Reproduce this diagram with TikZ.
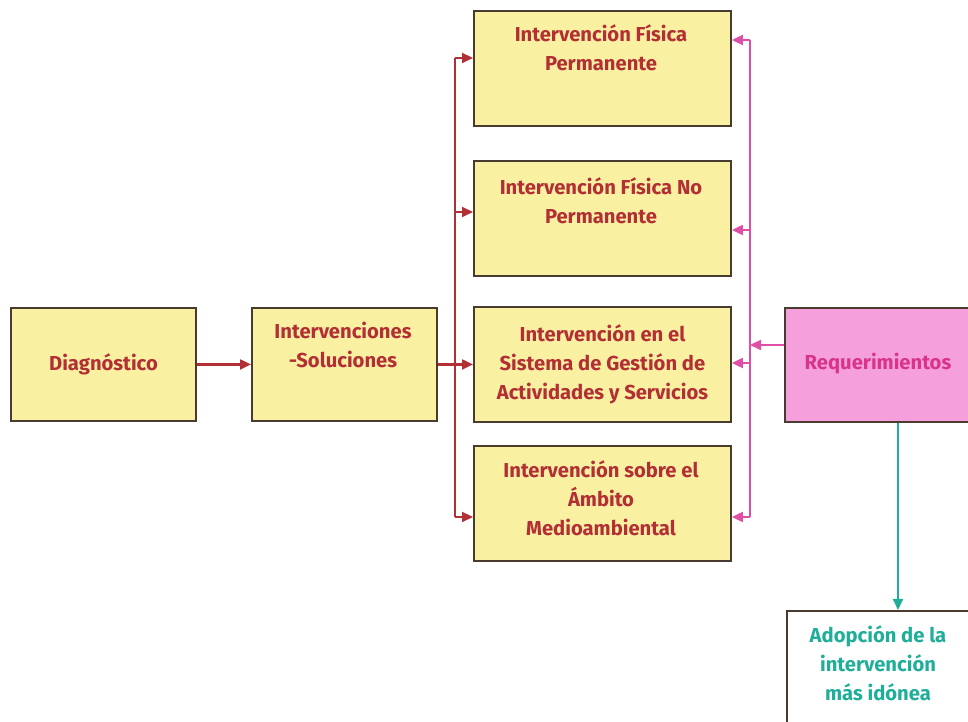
\documentclass[tikz,border=0pt]{standalone}
\usepackage{fontspec}
\setmainfont{Fira Sans}
\usetikzlibrary{arrows.meta}
\definecolor{boxfill}{HTML}{FAF0A2}
\definecolor{boxline}{HTML}{4A3B30}
\definecolor{redc}{HTML}{B22F35}
\definecolor{pinkfill}{HTML}{F5A0DC}
\definecolor{pinktxt}{HTML}{D9348C}
\definecolor{pinkline}{HTML}{DE4FA5}
\definecolor{tealc}{HTML}{1FAE98}
\tikzset{
  box/.style={draw=boxline, line width=1.1pt, fill=boxfill, anchor=north west, inner sep=0pt},
  rtxt/.style={text=redc, align=center, font=\fontsize{11.5}{16.5}\selectfont\bfseries},
  rline/.style={draw=redc, line width=1.2pt},
  rarr/.style={draw=redc, line width=1.2pt, -{Triangle[length=2.2mm,width=2mm]}},
  pline/.style={draw=pinkline, line width=1.2pt},
  parr/.style={draw=pinkline, line width=1.2pt, -{Triangle[length=2.2mm,width=2mm]}},
  tarr/.style={draw=tealc, line width=1.2pt, -{Triangle[length=2.2mm,width=2mm]}},
}
\begin{document}
\begin{tikzpicture}[x=0.02cm, y=-0.02cm]
\useasboundingbox (0,0) rectangle (968,722);
\clip (0,0) rectangle (968,722);
% boxes
\node[box, minimum width=185*0.02cm, minimum height=113*0.02cm] (dg) at (10,307) {};
\node[rtxt] (dgt) at (dg.center) {Diagnóstico};
\node[box, minimum width=185*0.02cm, minimum height=113*0.02cm] (iv) at (251,307) {};
\node[rtxt] (ivt) at (343,345) {Intervenciones\\-Soluciones};
\node[box, minimum width=257*0.02cm, minimum height=115*0.02cm] (b1) at (473,10) {};
\node[rtxt] (b1t) at (601,48) {Intervención Física\\Permanente};
\node[box, minimum width=257*0.02cm, minimum height=115*0.02cm] (b2) at (473,160) {};
\node[rtxt] (b2t) at (601,201) {Intervención Física No\\Permanente};
\node[box, minimum width=257*0.02cm, minimum height=115*0.02cm] (b3) at (473,306) {};
\node[rtxt] (b3t) at (b3.center) {Intervención en el\\Sistema de Gestión de\\Actividades y Servicios};
\node[box, minimum width=257*0.02cm, minimum height=115*0.02cm] (b4) at (473,445) {};
\node[rtxt] (b4t) at (601,498) {Intervención sobre el\\Ámbito\\Medioambiental};
\node[box, fill=pinkfill, minimum width=195*0.02cm, minimum height=114*0.02cm] (rq) at (784,307) {};
\node[rtxt, text=pinktxt] (rqt) at (878,364) {Requerimientos};
\node[box, fill=white, minimum width=195*0.02cm, minimum height=125*0.02cm] (ad) at (786,610) {};
\node[rtxt, text=tealc] (adt) at (878,663) {Adopción de la\\intervención\\más idónea};
% red connectors
\draw[rarr] (dg.east) -- (iv.west);
\draw[rarr] (iv.east) -- (b3.west);
\coordinate (rbt) at (455,58);
\coordinate (rb2) at (455,212);
\coordinate (rbb) at (455,517);
\draw[rline] (rbt) -- (rbb);
\draw[rarr] (rbt) -- (rbt -| b1.west);
\draw[rarr] (rb2) -- (rb2 -| b2.west);
\draw[rarr] (rbb) -- (rbb -| b4.west);
% pink connectors
\coordinate (pbt) at (750,40);
\coordinate (pb2) at (750,230);
\coordinate (pb3) at (750,363);
\coordinate (pbb) at (750,517);
\coordinate (pin) at (750,345);
\draw[pline] (pbt) -- (pbb);
\draw[parr] (pbt) -- (pbt -| b1.east);
\draw[parr] (pb2) -- (pb2 -| b2.east);
\draw[parr] (pb3) -- (pb3 -| b3.east);
\draw[parr] (pbb) -- (pbb -| b4.east);
\draw[parr] (rq.west |- pin) -- (pin);
% teal
\coordinate (tx) at (898,0);
\draw[tarr] (rq.south -| tx) -- (ad.north -| tx);
\end{tikzpicture}
\end{document}
